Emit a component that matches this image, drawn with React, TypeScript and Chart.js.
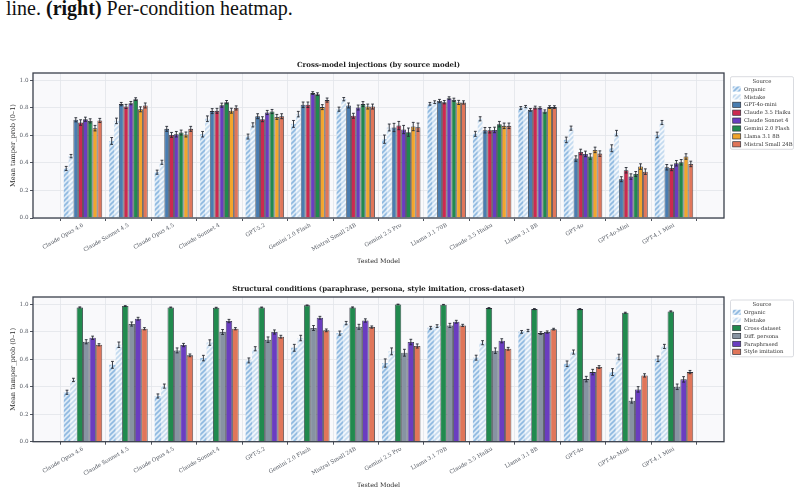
import React, { useEffect, useRef } from "react";
import { Chart, registerables } from "chart.js";
Chart.register(...registerables);

const MODELS = [
  "Claude Opus 4.6", "Claude Sonnet 4.5", "Claude Opus 4.5", "Claude Sonnet 4", "GPT-5.2",
  "Gemini 2.0 Flash", "Mistral Small 24B", "Gemini 2.5 Pro", "Llama 3.1 70B", "Claude 3.5 Haiku",
  "Llama 3.1 8B", "GPT-4o", "GPT-4o-Mini", "GPT-4.1 Mini",
];
const Y_TICKS = [0, 0.2, 0.4, 0.6, 0.8, 1.0];

// shared baselines
const ORGANIC = [0.36, 0.56, 0.333, 0.609, 0.592, 0.684, 0.791, 0.573, 0.83, 0.612, 0.8, 0.568, 0.507, 0.604];
const ORGANIC_ERR = [0.015, 0.025, 0.015, 0.02, 0.018, 0.025, 0.015, 0.03, 0.01, 0.018, 0.01, 0.02, 0.025, 0.02];
const MISTAKE = [0.45, 0.706, 0.405, 0.722, 0.677, 0.755, 0.864, 0.658, 0.842, 0.721, 0.81, 0.653, 0.617, 0.694];
const MISTAKE_ERR = [0.012, 0.02, 0.015, 0.02, 0.015, 0.02, 0.012, 0.025, 0.01, 0.015, 0.008, 0.015, 0.02, 0.015];

// cross-model injections (by source model)
const SRC_GPT4O_MINI = [0.714, 0.828, 0.648, 0.777, 0.74, 0.823, 0.818, 0.658, 0.85, 0.638, 0.786, 0.432, 0.282, 0.369];
const SRC_GPT4O_MINI_ERR = [0.015, 0.012, 0.018, 0.018, 0.018, 0.02, 0.018, 0.03, 0.012, 0.02, 0.01, 0.02, 0.018, 0.02];
const SRC_HAIKU = [0.694, 0.811, 0.604, 0.779, 0.718, 0.823, 0.743, 0.672, 0.842, 0.638, 0.803, 0.48, 0.347, 0.364];
const SRC_HAIKU_ERR = [0.02, 0.015, 0.018, 0.018, 0.018, 0.02, 0.018, 0.03, 0.012, 0.02, 0.01, 0.02, 0.02, 0.02];
const SRC_SONNET4 = [0.718, 0.835, 0.609, 0.82, 0.767, 0.908, 0.803, 0.643, 0.871, 0.64, 0.8, 0.466, 0.301, 0.398];
const SRC_SONNET4_ERR = [0.015, 0.012, 0.02, 0.015, 0.015, 0.01, 0.018, 0.03, 0.01, 0.02, 0.008, 0.02, 0.02, 0.02];
const SRC_GEMINI_FLASH = [0.706, 0.864, 0.621, 0.842, 0.774, 0.9, 0.828, 0.624, 0.859, 0.682, 0.774, 0.447, 0.32, 0.405];
const SRC_GEMINI_FLASH_ERR = [0.015, 0.01, 0.018, 0.012, 0.015, 0.01, 0.018, 0.03, 0.012, 0.02, 0.012, 0.02, 0.018, 0.02];
const SRC_LLAMA8B = [0.653, 0.79, 0.607, 0.78, 0.735, 0.806, 0.81, 0.665, 0.84, 0.67, 0.806, 0.495, 0.374, 0.447];
const SRC_LLAMA8B_ERR = [0.02, 0.018, 0.018, 0.018, 0.018, 0.018, 0.018, 0.03, 0.015, 0.02, 0.01, 0.02, 0.02, 0.02];
const SRC_MISTRAL = [0.709, 0.818, 0.648, 0.8, 0.74, 0.857, 0.81, 0.66, 0.84, 0.67, 0.806, 0.468, 0.337, 0.393];
const SRC_MISTRAL_ERR = [0.015, 0.018, 0.018, 0.015, 0.018, 0.015, 0.018, 0.03, 0.012, 0.02, 0.01, 0.02, 0.02, 0.02];

// structural conditions
const CROSS_DATASET = [0.978, 0.988, 0.978, 0.976, 0.978, 0.993, 0.978, 1.0, 0.998, 0.973, 0.966, 0.966, 0.939, 0.949];
const CROSS_DATASET_ERR = [0.004, 0.003, 0.003, 0.003, 0.003, 0.003, 0.004, 0.002, 0.002, 0.004, 0.004, 0.004, 0.004, 0.004];
const DIFF_PERSONA = [0.728, 0.857, 0.665, 0.799, 0.743, 0.828, 0.837, 0.648, 0.847, 0.663, 0.791, 0.456, 0.299, 0.4];
const DIFF_PERSONA_ERR = [0.015, 0.015, 0.018, 0.018, 0.02, 0.018, 0.018, 0.025, 0.015, 0.02, 0.01, 0.02, 0.018, 0.02];
const PARAPHRASED = [0.757, 0.896, 0.704, 0.879, 0.799, 0.903, 0.883, 0.726, 0.874, 0.735, 0.799, 0.507, 0.381, 0.454];
const PARAPHRASED_ERR = [0.012, 0.01, 0.012, 0.012, 0.015, 0.01, 0.012, 0.02, 0.01, 0.015, 0.008, 0.02, 0.02, 0.02];
const STYLE_IMITATION = [0.706, 0.823, 0.629, 0.823, 0.765, 0.811, 0.835, 0.697, 0.847, 0.677, 0.82, 0.544, 0.483, 0.507];
const STYLE_IMITATION_ERR = [0.008, 0.008, 0.01, 0.008, 0.01, 0.01, 0.008, 0.015, 0.008, 0.01, 0.006, 0.01, 0.012, 0.012];

const FONT = "'DejaVu Serif', serif";
const EDGE = "#2e323c";
const FRAME = "#3a3f4b";
const GRID = "#e2e4ea";

type Series = { label: string; data: number[]; err: number[]; color: string; hatch?: [string, string] };

const TOP_SERIES: Series[] = [
  { label: "Organic", data: ORGANIC, err: ORGANIC_ERR, color: "#9dc3e6", hatch: ["#dbe9f6", "#8fb9e0"] },
  { label: "Mistake", data: MISTAKE, err: MISTAKE_ERR, color: "#c6dbef", hatch: ["#f1f6fb", "#c4daef"] },
  { label: "GPT-4o-mini", data: SRC_GPT4O_MINI, err: SRC_GPT4O_MINI_ERR, color: "#4a7db0" },
  { label: "Claude 3.5 Haiku", data: SRC_HAIKU, err: SRC_HAIKU_ERR, color: "#cc2a4f" },
  { label: "Claude Sonnet 4", data: SRC_SONNET4, err: SRC_SONNET4_ERR, color: "#6a3dc0" },
  { label: "Gemini 2.0 Flash", data: SRC_GEMINI_FLASH, err: SRC_GEMINI_FLASH_ERR, color: "#218a4e" },
  { label: "Llama 3.1 8B", data: SRC_LLAMA8B, err: SRC_LLAMA8B_ERR, color: "#f2a52c" },
  { label: "Mistral Small 24B", data: SRC_MISTRAL, err: SRC_MISTRAL_ERR, color: "#e0765a" },
];

const BOTTOM_SERIES: Series[] = [
  { label: "Organic", data: ORGANIC, err: ORGANIC_ERR, color: "#9dc3e6", hatch: ["#dbe9f6", "#8fb9e0"] },
  { label: "Mistake", data: MISTAKE, err: MISTAKE_ERR, color: "#c6dbef", hatch: ["#f1f6fb", "#c4daef"] },
  { label: "Cross-dataset", data: CROSS_DATASET, err: CROSS_DATASET_ERR, color: "#218a4e" },
  { label: "Diff. persona", data: DIFF_PERSONA, err: DIFF_PERSONA_ERR, color: "#8793a2" },
  { label: "Paraphrased", data: PARAPHRASED, err: PARAPHRASED_ERR, color: "#6a3dc0" },
  { label: "Style imitation", data: STYLE_IMITATION, err: STYLE_IMITATION_ERR, color: "#e0765a" },
];

function makeHatch(bg: string, fg: string) {
  const s = 5;
  const c = document.createElement("canvas");
  c.width = s;
  c.height = s;
  const g = c.getContext("2d")!;
  g.fillStyle = bg;
  g.fillRect(0, 0, s, s);
  g.strokeStyle = fg;
  g.lineWidth = 1.6;
  g.beginPath();
  g.moveTo(0, s);
  g.lineTo(s, 0);
  g.moveTo(-s, s);
  g.lineTo(s, -s);
  g.moveTo(0, 2 * s);
  g.lineTo(2 * s, 0);
  g.stroke();
  return g.createPattern(c, "repeat")!;
}

type PanelProps = {
  series: Series[];
  title: string;
  top: number;
  height: number;
  plotTop: number;
  xAxisHeight: number;
  titleY: number;
  xTitleY: number;
  legendTop: number;
};

function BarPanel(p: PanelProps) {
  const ref = useRef<HTMLCanvasElement>(null);
  useEffect(() => {
    const fills = p.series.map((s) => (s.hatch ? makeHatch(s.hatch[0], s.hatch[1]) : s.color));
    const decor = {
      id: "decor",
      beforeDraw(chart: any) {
        const { ctx, chartArea: a } = chart;
        ctx.save();
        ctx.fillStyle = "#f9f9fb";
        ctx.fillRect(a.left, a.top, a.right - a.left, a.bottom - a.top);
        ctx.restore();
      },
      afterDatasetsDraw(chart: any) {
        const { ctx } = chart;
        const ys = chart.scales.y;
        ctx.save();
        ctx.strokeStyle = "#262a33";
        ctx.lineWidth = 0.9;
        p.series.forEach((s, di) => {
          const meta = chart.getDatasetMeta(di);
          meta.data.forEach((el: any, i: number) => {
            const x = el.x;
            const y1 = ys.getPixelForValue(s.data[i] - s.err[i]);
            const y2 = ys.getPixelForValue(s.data[i] + s.err[i]);
            ctx.beginPath();
            ctx.moveTo(x, y1);
            ctx.lineTo(x, y2);
            ctx.moveTo(x - 1.4, y1);
            ctx.lineTo(x + 1.4, y1);
            ctx.moveTo(x - 1.4, y2);
            ctx.lineTo(x + 1.4, y2);
            ctx.stroke();
          });
        });
        ctx.restore();
      },
      afterDraw(chart: any) {
        const { ctx, chartArea: a } = chart;
        ctx.save();
        // frame
        ctx.strokeStyle = FRAME;
        ctx.lineWidth = 1.3;
        ctx.strokeRect(a.left, a.top, a.right - a.left, a.bottom - a.top);
        // title
        const cx = (a.left + a.right) / 2;
        ctx.fillStyle = "#1c1c1c";
        ctx.textAlign = "center";
        ctx.textBaseline = "middle";
        ctx.font = `bold 7px ${FONT}`;
        ctx.fillText(p.title, cx, p.titleY);
        // axis titles
        ctx.font = `6.3px ${FONT}`;
        ctx.fillStyle = "#2a2a2a";
        ctx.fillText("Tested Model", cx, p.xTitleY);
        ctx.save();
        ctx.translate(13, (a.top + a.bottom) / 2);
        ctx.rotate(-Math.PI / 2);
        ctx.font = `6.6px ${FONT}`;
        ctx.fillText("Mean tamper_prob (0\u20131)", 0, 0);
        ctx.restore();
        // legend
        const lx = 730.5;
        const lw = 63;
        const n = p.series.length;
        const step = 7.9;
        const firstRow = p.legendTop + 12.3;
        const lh = 12.3 + (n - 1) * step + 5;
        ctx.fillStyle = "rgba(255,255,255,0.95)";
        ctx.strokeStyle = "#cfd2d8";
        ctx.lineWidth = 0.8;
        ctx.beginPath();
        (ctx as any).roundRect(lx, p.legendTop, lw, lh, 1.5);
        ctx.fill();
        ctx.stroke();
        ctx.fillStyle = "#333";
        ctx.font = `5.3px ${FONT}`;
        ctx.textAlign = "center";
        ctx.fillText("Source", lx + lw / 2, p.legendTop + 4.6);
        ctx.textAlign = "left";
        p.series.forEach((s, i) => {
          const ry = firstRow + i * step;
          ctx.fillStyle = fills[i] as any;
          ctx.fillRect(lx + 2.2, ry - 2.6, 8, 5.2);
          if (!s.hatch) {
            ctx.strokeStyle = EDGE;
            ctx.lineWidth = 0.7;
            ctx.strokeRect(lx + 2.2, ry - 2.6, 8, 5.2);
          }
          ctx.fillStyle = "#333";
          ctx.fillText(s.label, lx + 13.5, ry + 0.3);
        });
        ctx.restore();
      },
    };

    const chart = new Chart(ref.current!, {
      type: "bar",
      data: {
        datasets: p.series.map((s, i) => ({
          label: s.label,
          data: s.data.map((v, k) => ({ x: k, y: v })),
          backgroundColor: fills[i] as any,
          borderColor: EDGE,
          borderWidth: s.hatch ? 0 : 0.8,
          barPercentage: 1,
          categoryPercentage: 0.845,
        })),
      },
      options: {
        responsive: false,
        maintainAspectRatio: false,
        animation: false,
        layout: { padding: { left: 0, right: 76, top: p.plotTop, bottom: 0 } },
        plugins: { legend: { display: false }, tooltip: { enabled: false }, title: { display: false } },
        scales: {
          x: {
            type: "linear",
            min: -1.1,
            max: 14.1,
            offset: false,
            afterBuildTicks: (s: any) => {
              s.ticks = MODELS.map((_, i) => ({ value: i }));
            },
            afterFit: (s: any) => {
              s.height = p.xAxisHeight;
            },
            ticks: {
              autoSkip: false,
              maxRotation: 30,
              minRotation: 30,
              padding: 1,
              color: "#555a63",
              font: { family: FONT, size: 5.5 },
              callback: (v: any) => MODELS[Math.round(Number(v))] ?? "",
            },
            grid: { color: GRID, lineWidth: 0.8, tickLength: 3, tickColor: FRAME, tickWidth: 0.9 },
            border: { display: false },
          },
          y: {
            min: 0,
            max: 1.054,
            afterBuildTicks: (s: any) => {
              s.ticks = Y_TICKS.map((v) => ({ value: v }));
            },
            afterFit: (s: any) => {
              s.width = 33;
            },
            ticks: {
              padding: 1.5,
              color: "#555a63",
              font: { family: FONT, size: 5.6 },
              callback: (v: any) => Number(v).toFixed(1),
            },
            grid: { color: GRID, lineWidth: 0.8, tickLength: 3, tickColor: FRAME, tickWidth: 0.9 },
            border: { display: false },
          },
        },
      } as any,
      plugins: [decor as any],
    });
    return () => chart.destroy();
  }, []);
  return (
    <canvas
      ref={ref}
      width={800}
      height={p.height}
      style={{ position: "absolute", left: 0, top: p.top, width: 800, height: p.height }}
    />
  );
}

export default function App() {
  return (
    <div
      style={{
        position: "absolute",
        left: 0,
        top: 0,
        width: 800,
        height: 495,
        background: "#fff",
        overflow: "hidden",
      }}
    >
      <div
        style={{
          position: "absolute",
          left: 6,
          top: -3,
          fontFamily: "'Liberation Serif', 'Times New Roman', serif",
          fontSize: 20,
          color: "#111",
          whiteSpace: "nowrap",
        }}
      >
        line. <b>(right)</b> Per-condition heatmap.
      </div>
      <BarPanel
        series={TOP_SERIES}
        title="Cross-model injections (by source model)"
        top={45}
        height={225}
        plotTop={28}
        xAxisHeight={52}
        titleY={20}
        xTitleY={216}
        legendTop={31.7}
      />
      <BarPanel
        series={BOTTOM_SERIES}
        title="Structural conditions (paraphrase, persona, style imitation, cross-dataset)"
        top={270}
        height={225}
        plotTop={27}
        xAxisHeight={53.3}
        titleY={19}
        xTitleY={215}
        legendTop={30}
      />
    </div>
  );
}
